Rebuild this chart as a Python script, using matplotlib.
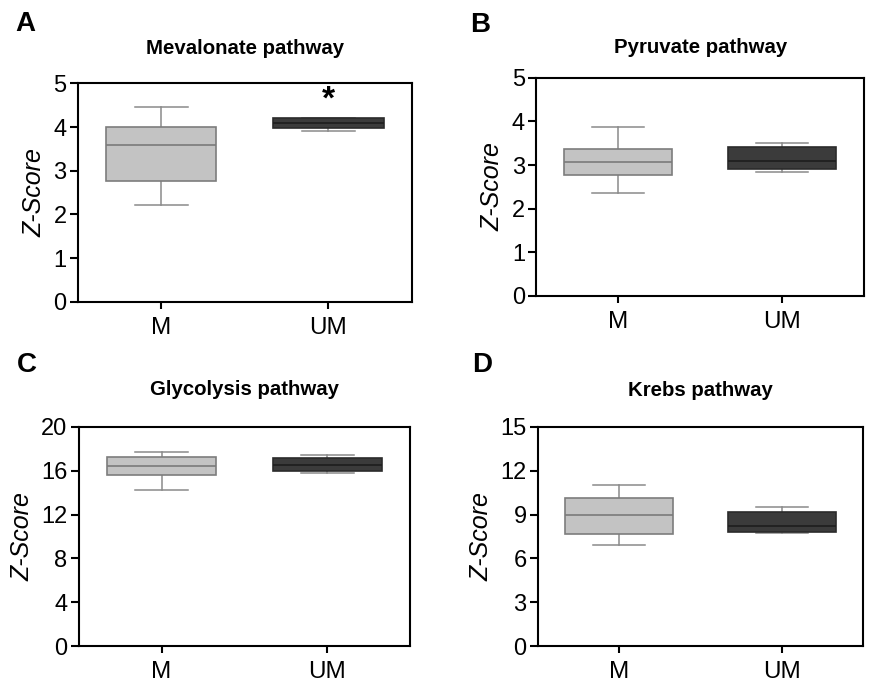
import matplotlib
matplotlib.use("Agg")
import matplotlib.pyplot as plt

plt.rcParams["font.family"] = ["Liberation Sans", "DejaVu Sans"]

groups = ["M", "UM"]
panels = ["A", "B", "C", "D"]
titles = ["Mevalonate pathway", "Pyruvate pathway", "Glycolysis pathway", "Krebs pathway"]
y_max = [5, 5, 20, 15]
y_step = [1, 1, 4, 3]

# five-number summaries: (whislo, q1, median, q3, whishi)
mevalonate = [(2.21, 2.77, 3.58, 4.01, 4.45), (3.91, 3.97, 4.10, 4.21, 4.21)]
pyruvate = [(2.36, 2.78, 3.08, 3.37, 3.87), (2.85, 2.90, 3.09, 3.42, 3.51)]
glycolysis = [(14.2, 15.64, 16.43, 17.26, 17.74), (15.76, 15.95, 16.5, 17.2, 17.47)]
krebs = [(6.93, 7.69, 8.99, 10.13, 11.0), (7.76, 7.83, 8.24, 9.18, 9.5)]
summaries = [mevalonate, pyruvate, glycolysis, krebs]

star_panel = 0
star_y = 4.62

axes_rect = [
    [0.089, 0.558, 0.383, 0.320],
    [0.614, 0.567, 0.376, 0.319],
    [0.090, 0.054, 0.380, 0.321],
    [0.616, 0.054, 0.373, 0.321],
]
title_pad = [21, 18, 23, 22]
letter_xy = [(0.017, 0.955), (0.539, 0.953), (0.019, 0.455), (0.541, 0.455)]
fills = ["#c3c3c3", "#3b3b3b"]
edges = ["#7d7d7d", "#2b2b2b"]

fig = plt.figure(figsize=(8.73, 6.83), dpi=100)

for i in range(4):
    ax = fig.add_axes(axes_rect[i])
    stats = []
    for g, s in zip(groups, summaries[i]):
        stats.append({"label": g, "whislo": s[0], "q1": s[1], "med": s[2],
                      "q3": s[3], "whishi": s[4], "fliers": []})
    res = ax.bxp(stats, positions=[0, 1], widths=0.66, patch_artist=True,
                 showfliers=False, capwidths=0.32)
    for j, box in enumerate(res["boxes"]):
        box.set_facecolor(fills[j])
        box.set_edgecolor(edges[j])
        box.set_linewidth(1.2)
        box.set_zorder(3)
    for j, med in enumerate(res["medians"]):
        med.set_color("#7a7a7a" if j == 0 else "#1e1e1e")
        med.set_linewidth(1.2)
        med.set_zorder(4)
    for line in res["whiskers"] + res["caps"]:
        line.set_color("#8a8a8a")
        line.set_linewidth(1.1)
        line.set_zorder(2)

    ax.set_xlim(-0.5, 1.5)
    ax.set_ylim(0, y_max[i])
    ax.set_yticks(range(0, y_max[i] + 1, y_step[i]))
    ax.set_xticks([0, 1])
    ax.set_xticklabels(groups, fontsize=17.5)
    ax.tick_params(axis="y", labelsize=17, length=6, width=1.5, pad=2, direction="out")
    ax.tick_params(axis="x", length=5, width=1.5, pad=6, direction="out")
    for sp in ax.spines.values():
        sp.set_linewidth(1.5)
        sp.set_color("black")
    ax.set_ylabel("Z-Score", fontsize=18, style="italic", labelpad=5)
    ax.set_title(titles[i], fontsize=14.7, fontweight="bold", pad=title_pad[i])
    if i == star_panel:
        ax.text(1, star_y, "*", ha="center", va="center", fontsize=24, fontweight="bold")
    fig.text(letter_xy[i][0], letter_xy[i][1], panels[i], fontsize=20,
             fontweight="bold", va="baseline")

fig.savefig("out.png", dpi=100)
